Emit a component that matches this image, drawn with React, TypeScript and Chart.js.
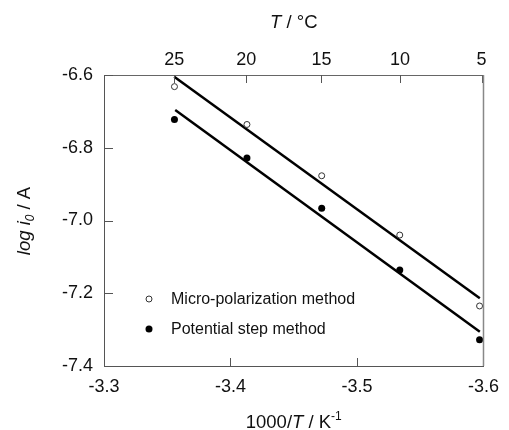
import React, { useEffect, useRef } from "react";
import { Chart, registerables } from "chart.js";

Chart.register(...registerables);

// 1000/T (K^-1) positions of the measurements (negative scale, as in the figure)
const xValues = [-3.3557, -3.413, -3.4721, -3.5338, -3.5969];
// log i0 / A
const microPolarization = [-6.632, -6.736, -6.877, -7.04, -7.235];
const potentialStep = [-6.722, -6.828, -6.966, -7.136, -7.328];
// fitted straight lines (end points)
const fitMicroX = [-3.3555, -3.5971];
const fitMicroY = [-6.605, -7.214];
const fitStepX = [-3.3563, -3.5971];
const fitStepY = [-6.696, -7.306];

const xTicks = [-3.3, -3.4, -3.5, -3.6];
const yTicks = [-6.6, -6.8, -7.0, -7.2, -7.4];
const topTickLabels = ["25", "20", "15", "10", "5"];
const topTickPositions = [-3.3555, -3.4125, -3.4719, -3.534, -3.5985];

const seriesLabels = ["Micro-polarization method", "Potential step method"];

const FONT = "'Liberation Sans', Arial, sans-serif";

type Run = { t: string; italic?: boolean; size?: number; dy?: number };

function drawRuns(ctx: CanvasRenderingContext2D, runs: Run[], x: number, y: number) {
  const fontOf = (r: Run) => `${r.italic ? "italic " : ""}${r.size ?? 18.5}px ${FONT}`;
  let total = 0;
  for (const r of runs) {
    ctx.font = fontOf(r);
    total += ctx.measureText(r.t).width;
  }
  let cx = x - total / 2;
  ctx.textAlign = "left";
  ctx.textBaseline = "alphabetic";
  for (const r of runs) {
    ctx.font = fontOf(r);
    ctx.fillText(r.t, cx, y + (r.dy ?? 0));
    cx += ctx.measureText(r.t).width;
  }
}

const decorPlugin = {
  id: "decor",
  afterDraw(chart: any) {
    const ctx: CanvasRenderingContext2D = chart.ctx;
    const { left, right, top, bottom } = chart.chartArea;
    const sx = chart.scales.x;
    const sx2 = chart.scales.x2;
    const sy = chart.scales.y;
    ctx.save();
    // inward tick marks
    ctx.strokeStyle = "#555";
    ctx.lineWidth = 1;
    ctx.beginPath();
    for (const t of sx.ticks) {
      const p = Math.round(sx.getPixelForValue(t.value)) + 0.5;
      ctx.moveTo(p, bottom);
      ctx.lineTo(p, bottom - 8);
    }
    for (const t of sx2.ticks) {
      const p = Math.round(sx2.getPixelForValue(t.value)) + 0.5;
      ctx.moveTo(p, top);
      ctx.lineTo(p, top + 8);
    }
    for (const t of sy.ticks) {
      const p = Math.round(sy.getPixelForValue(t.value)) + 0.5;
      ctx.moveTo(left, p);
      ctx.lineTo(left + 9, p);
    }
    ctx.stroke();
    // right frame line
    ctx.strokeStyle = "#888";
    ctx.lineWidth = 1.5;
    ctx.beginPath();
    ctx.moveTo(right, top);
    ctx.lineTo(right, bottom);
    ctx.stroke();

    // axis titles
    ctx.fillStyle = "#111";
    drawRuns(ctx, [{ t: "T", italic: true }, { t: " / °C" }], (left + right) / 2, 28);
    drawRuns(
      ctx,
      [{ t: "1000/" }, { t: "T", italic: true }, { t: " / K" }, { t: "-1", size: 12, dy: -8 }],
      (left + right) / 2,
      428
    );
    ctx.save();
    ctx.translate(30, 221);
    ctx.rotate(-Math.PI / 2);
    drawRuns(
      ctx,
      [
        { t: "log ", italic: true },
        { t: "i", italic: true },
        { t: "0", italic: true, size: 12, dy: 4 },
        { t: " / A" },
      ],
      0,
      0
    );
    ctx.restore();

    // legend
    const lx = 149;
    const ly = [299, 329];
    ctx.font = `16px ${FONT}`;
    ctx.textAlign = "left";
    ctx.textBaseline = "middle";
    for (let i = 0; i < 2; i++) {
      ctx.beginPath();
      ctx.arc(lx, ly[i], i === 0 ? 3 : 3.5, 0, Math.PI * 2);
      if (i === 0) {
        ctx.fillStyle = "#fff";
        ctx.fill();
        ctx.strokeStyle = "#333";
        ctx.lineWidth = 1;
        ctx.stroke();
      } else {
        ctx.fillStyle = "#000";
        ctx.fill();
      }
      ctx.fillStyle = "#111";
      ctx.fillText(seriesLabels[i], 171, ly[i] + 1);
    }
    ctx.restore();
  },
};

export default function App() {
  const ref = useRef<HTMLCanvasElement | null>(null);
  useEffect(() => {
    if (!ref.current) return;
    const tickFont = { family: FONT, size: 18 };
    const chart = new Chart(ref.current, {
      type: "scatter",
      data: {
        datasets: [
          {
            label: seriesLabels[0],
            data: xValues.map((x, i) => ({ x, y: microPolarization[i] })),
            pointRadius: 3,
            pointBorderWidth: 1,
            pointBackgroundColor: "#fff",
            pointBorderColor: "#333",
            showLine: false,
          },
          {
            label: seriesLabels[1],
            data: xValues.map((x, i) => ({ x, y: potentialStep[i] })),
            pointRadius: 3.5,
            pointBorderWidth: 0,
            pointBackgroundColor: "#000",
            pointBorderColor: "#000",
            showLine: false,
          },
          {
            label: "fit1",
            data: fitMicroX.map((x, i) => ({ x, y: fitMicroY[i] })),
            showLine: true,
            borderColor: "#000",
            borderWidth: 2.5,
            pointRadius: 0,
          },
          {
            label: "fit2",
            data: fitStepX.map((x, i) => ({ x, y: fitStepY[i] })),
            showLine: true,
            borderColor: "#000",
            borderWidth: 2.5,
            pointRadius: 0,
          },
        ],
      },
      options: {
        animation: false,
        responsive: true,
        maintainAspectRatio: false,
        layout: { padding: { left: 0, right: 21.5, top: 0, bottom: 0 } },
        plugins: { legend: { display: false }, tooltip: { enabled: false } },
        scales: {
          x: {
            type: "linear",
            position: "bottom",
            reverse: true,
            min: -3.6,
            max: -3.3,
            afterBuildTicks: (s: any) => {
              s.ticks = xTicks.map((v) => ({ value: v }));
            },
            afterFit: (s: any) => {
              s.height = 64;
            },
            ticks: {
              font: tickFont,
              color: "#111",
              padding: 10,
              maxRotation: 0,
              autoSkip: false,
              callback: (v: any) => Number(v).toFixed(1),
            },
            grid: { display: false, drawTicks: false },
            border: { display: true, color: "#555", width: 1 },
          },
          x2: {
            type: "linear",
            position: "top",
            reverse: true,
            min: -3.6,
            max: -3.3,
            afterBuildTicks: (s: any) => {
              s.ticks = topTickPositions.map((v) => ({ value: v }));
            },
            afterFit: (s: any) => {
              s.height = 75;
            },
            ticks: {
              font: tickFont,
              color: "#111",
              padding: 4,
              maxRotation: 0,
              autoSkip: false,
              callback: (_v: any, i: number) => topTickLabels[i],
            },
            grid: { display: false, drawTicks: false },
            border: { display: true, color: "#666", width: 1 },
          },
          y: {
            type: "linear",
            min: -7.4,
            max: -6.6,
            afterBuildTicks: (s: any) => {
              s.ticks = yTicks.map((v) => ({ value: v }));
            },
            afterFit: (s: any) => {
              s.width = 104;
            },
            ticks: {
              font: tickFont,
              color: "#111",
              padding: 11,
              autoSkip: false,
              callback: (v: any) => Number(v).toFixed(1),
            },
            grid: { display: false, drawTicks: false },
            border: { display: true, color: "#555", width: 1 },
          },
        },
      },
      plugins: [decorPlugin],
    });
    return () => chart.destroy();
  }, []);
  return (
    <div style={{ position: "fixed", left: 0, top: 0, width: 509, height: 430, background: "#fff" }}>
      <canvas ref={ref} />
    </div>
  );
}
